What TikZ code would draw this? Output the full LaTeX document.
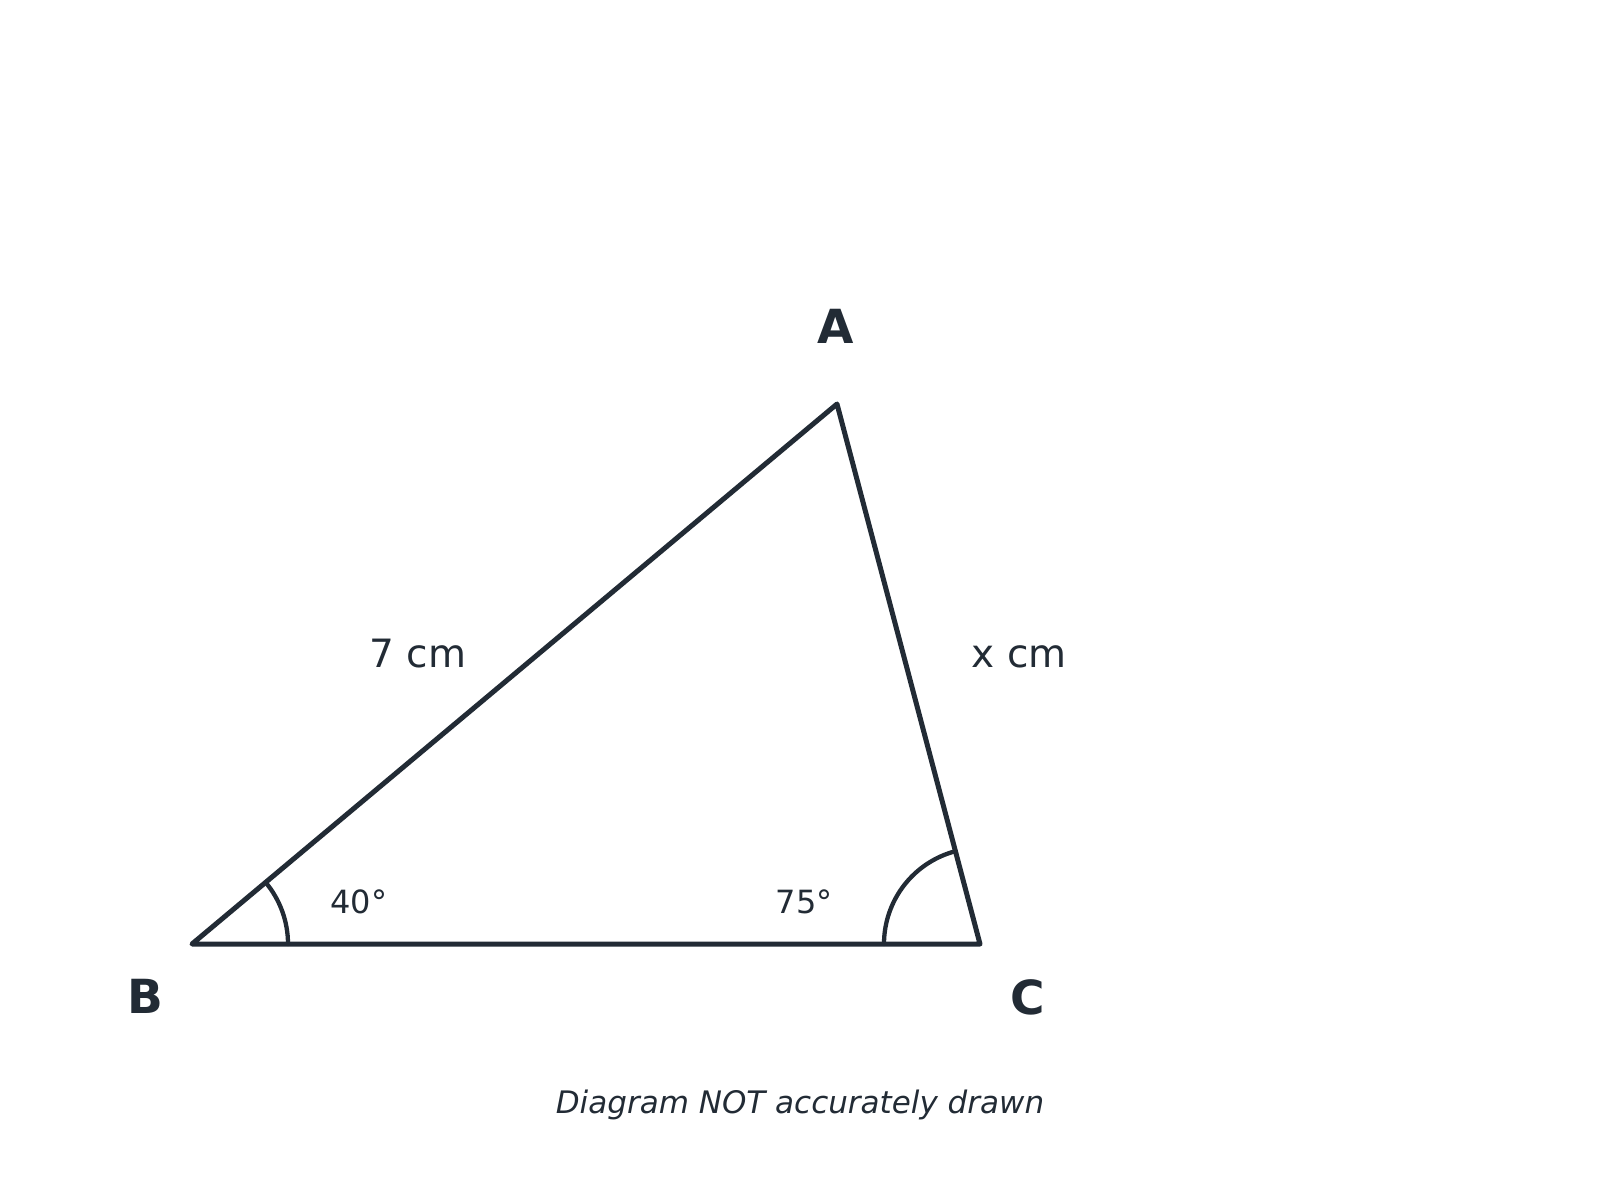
\documentclass[tikz,border=0pt]{standalone}
\usepackage{fontspec}
\setmainfont{DejaVu Sans}
\usepackage{tikz}
\usetikzlibrary{calc}
\definecolor{ink}{HTML}{222B35}

\begin{document}
\begin{tikzpicture}[x=1pt,y=1pt,
    side/.style={ink,line width=5pt,line join=round,line cap=round},
    vertex/.style={ink,anchor=base,inner sep=0pt,font=\fontsize{47}{56}\selectfont\bfseries},
    length/.style={ink,anchor=base,inner sep=0pt,font=\fontsize{39}{47}\selectfont},
    angle/.style={ink,anchor=base,inner sep=0pt,font=\fontsize{32}{38}\selectfont}]
      \useasboundingbox (0,0) rectangle (1600,1200);
      \coordinate (B) at (192,256);
      \coordinate (C) at (980,256);
      \coordinate (A) at (837,796);
      \draw[side] (B) -- (C) -- (A) -- cycle;
      \draw[side,line width=4.3pt] ($(B)+(96,0)$) arc (0:40:96);
      \draw[side,line width=4.3pt] ($(C)+(-96,0)$) arc (180:105:96);
      \node[vertex] (labA) at (836,856) {A};
      \node[vertex] (labB) at (145,187) {B};
      \node[vertex] (labC) at (1028,186) {C};
      \node[length] (AB) at (418,532) {7 cm};
      \node[length] (AC) at (1019,532) {x cm};
      \node[angle] (angB) at (359,287) {40°};
      \node[angle] (angC) at (804,287) {75°};
      \node[ink,anchor=base,inner sep=0pt,font=\fontsize{31}{37}\selectfont\itshape] (note) at (800,87) {Diagram NOT accurately drawn};
    \end{tikzpicture}
\end{document}
